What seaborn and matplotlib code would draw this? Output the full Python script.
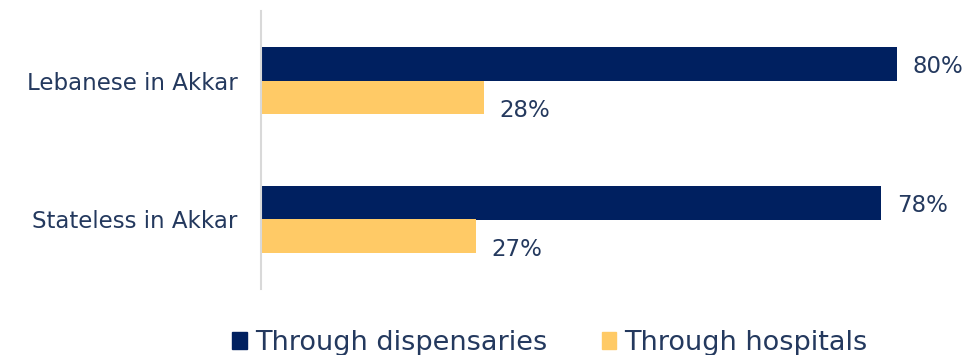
import matplotlib
matplotlib.use("Agg")
import matplotlib.pyplot as plt
import seaborn as sns
import pandas as pd

categories = ["Lebanese in Akkar", "Stateless in Akkar"]
series = ["Through dispensaries", "Through hospitals"]
dispensaries = [80, 78]
hospitals = [28, 27]

navy = "#002060"
gold = "#FFCA66"
text_col = "#24395E"

df = pd.DataFrame({
    "group": categories * 2,
    "channel": [series[0]] * 2 + [series[1]] * 2,
    "value": dispensaries + hospitals,
})

sns.set_theme(style="white")
plt.rcParams["font.family"] = ["DejaVu Sans"]

W, H = 968, 355
fig = plt.figure(figsize=(W / 100, H / 100), dpi=100)
ax = fig.add_axes([261 / W, 1 - 289 / H, 700 / W, 278 / H])

sns.barplot(data=df, y="group", x="value", hue="channel", orient="h",
            palette=[navy, gold], width=0.475, ax=ax, legend=False,
            saturation=1, edgecolor="none", linewidth=0)

ax.set_xlim(0, 88)
ax.set_ylim(1.5, -0.5)
ax.set_xlabel("")
ax.set_ylabel("")
ax.set_xticks([])
ax.tick_params(axis="y", length=0, pad=17, labelsize=16.5, labelcolor=text_col)
for s in ["top", "right", "bottom"]:
    ax.spines[s].set_visible(False)
ax.spines["left"].set_color("#D9D9D9")
ax.spines["left"].set_linewidth(1.5)

# value labels just past the end of each bar
for ci, cont in enumerate(ax.containers):
    vals = dispensaries if ci == 0 else hospitals
    dy = -2 if ci == 0 else -10
    for patch, v in zip(cont.patches, vals):
        y = patch.get_y() + patch.get_height() / 2
        ax.annotate(f"{v}%", (patch.get_width(), y), xytext=(11, dy),
                    textcoords="offset points", ha="left", va="center",
                    fontsize=16.5, color=text_col, annotation_clip=False)

handles = [plt.Rectangle((0, 0), 1, 1, color=c) for c in (navy, gold)]
fig.legend(handles, series, loc="center", bbox_to_anchor=(550 / W, 1 - 343 / H),
           ncol=2, frameon=False, fontsize=19.5, labelcolor=text_col,
           handlelength=0.55, handleheight=0.55, handletextpad=0.3,
           columnspacing=2.0)

fig.savefig("out.png", dpi=100)
